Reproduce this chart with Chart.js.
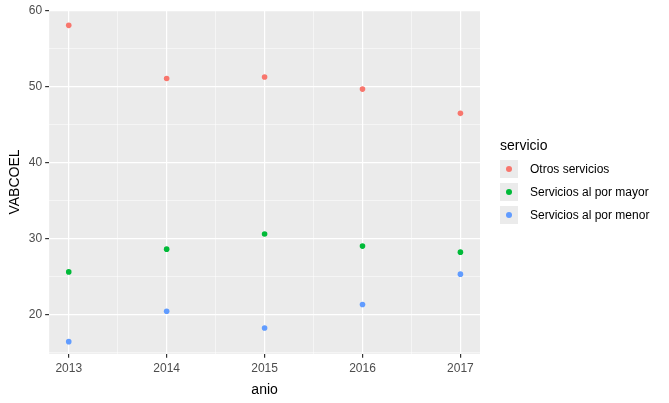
<!DOCTYPE html>
<html><head><meta charset="utf-8">
<script src="https://cdn.jsdelivr.net/npm/chart.js@4"></script>
<style>
body{margin:0;background:#fff;font-family:"Liberation Sans",Arial,sans-serif;}
#wrap{position:relative;width:669px;height:403px;}
#legend{position:absolute;left:500px;top:137px;font-size:12px;color:#000;}
#legend .t{font-size:14px;margin-bottom:4px;}
#legend .row{display:flex;align-items:center;height:23px;}
#legend .key{width:18px;height:18px;background:#ebebeb;position:relative;margin-right:12px;}
#legend .key i{position:absolute;left:6px;top:6px;width:6px;height:6px;border-radius:50%;}
</style></head><body>
<div id="wrap"><canvas id="c" width="669" height="403"></canvas>
<div id="legend"><div class="t">servicio</div></div></div>
<script>
const years = [2013, 2014, 2015, 2016, 2017];
const otros = [58.1, 51.1, 51.3, 49.7, 46.5];
const mayor = [25.6, 28.6, 30.6, 29.0, 28.2];
const menor = [16.4, 20.4, 18.2, 21.3, 25.3];
const names = ['Otros servicios', 'Servicios al por mayor', 'Servicios al por menor'];
const colors = ['#F8766D', '#00BA38', '#619CFF'];
const series = [otros, mayor, menor];

const bg = {id:'bg', beforeDraw(ch){const a=ch.chartArea,c=ch.ctx;c.save();c.fillStyle='#ebebeb';c.fillRect(a.left,a.top,a.right-a.left,a.bottom-a.top);c.restore();}};
const isMajor = v => Math.abs(v - Math.round(v)) < 1e-6;

new Chart(document.getElementById('c'), {
  type: 'scatter',
  data: { datasets: series.map((s, i) => ({
    label: names[i], data: years.map((y, j) => ({x: y, y: s[j]})),
    backgroundColor: colors[i], borderWidth: 0, pointRadius: 2.8
  }))},
  options: {
    responsive: false, animation: false,
    layout: {padding: {right: 189, top: 3, left: 5, bottom: 4}},
    plugins: {legend: {display: false}, tooltip: {enabled: false}},
    scales: {
      x: {type: 'linear', min: 2012.8, max: 2017.2,
        afterBuildTicks: ax => { ax.ticks = [2013,2013.5,2014,2014.5,2015,2015.5,2016,2016.5,2017].map(v => ({value: v})); },
        ticks: {color: '#4d4d4d', font: {size: 12}, padding: 4, callback: v => isMajor(v) ? String(Math.round(v)) : ''},
        grid: {color: '#fff', lineWidth: c => c.tick && isMajor(c.tick.value) ? 1.2 : 0.5, drawTicks: true, tickColor: c => c.tick && isMajor(c.tick.value) ? '#333' : 'rgba(0,0,0,0)', tickLength: 4},
        border: {display: false},
        title: {display: true, text: 'anio', color: '#000', font: {size: 14}, padding: {top: 2, bottom: 0}}},
      y: {min: 14.8, max: 60.1,
        afterBuildTicks: ax => { ax.ticks = [15,20,25,30,35,40,45,50,55,60].map(v => ({value: v})); },
        ticks: {color: '#4d4d4d', font: {size: 12}, callback: v => v % 10 === 0 ? String(v) : ''},
        grid: {color: '#fff', lineWidth: c => c.tick && c.tick.value % 10 === 0 ? 1.2 : 0.5, tickColor: c => c.tick && c.tick.value % 10 === 0 ? '#333' : 'rgba(0,0,0,0)', tickLength: 4},
        border: {display: false},
        title: {display: true, text: 'VABCOEL', color: '#000', font: {size: 14}, padding: 2}}
    }
  },
  plugins: [bg]
});

const lg = document.getElementById('legend');
names.forEach((n, i) => {
  const r = document.createElement('div'); r.className = 'row';
  r.innerHTML = '<div class="key"><i style="background:' + colors[i] + '"></i></div>' + n;
  lg.appendChild(r);
});
</script></body></html>
